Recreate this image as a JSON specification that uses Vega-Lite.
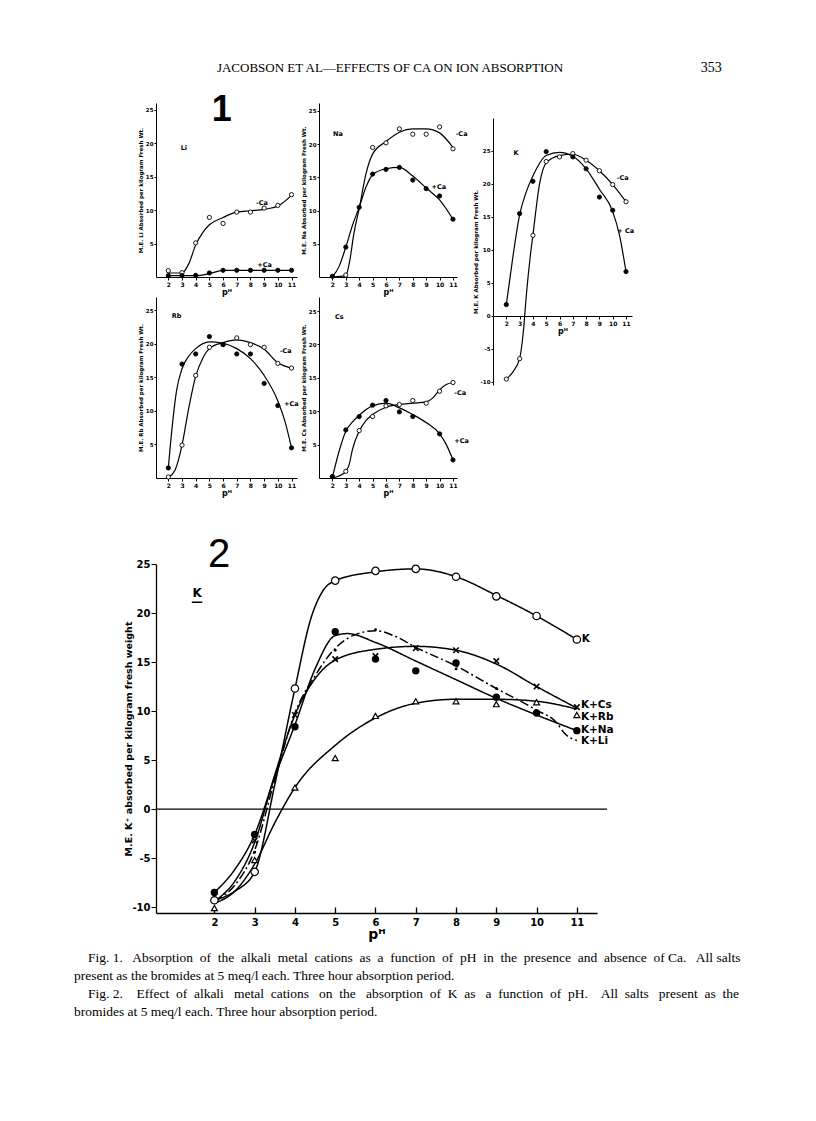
{
 "$schema": "https://vega.github.io/schema/vega-lite/v6.json",
 "padding": {"left": 74, "top": 58, "right": 10, "bottom": 10},
 "background": "white",
 "config": {
  "view": {"stroke": null},
  "axis": {"grid": false, "labelOverlap": false, "tickCount": 20, "domainColor": "black", "tickColor": "black", "labelColor": "black", "titleColor": "black", "labelFont": "DejaVu Sans", "titleFont": "DejaVu Sans", "labelFontWeight": "bold", "titleFontWeight": "bold"}
 },
 "datasets": {
  "f1c": [
   {"panel":"Li","ca":"-Ca","pH":2,"v":0.6},{"panel":"Li","ca":"-Ca","pH":3,"v":0.6},{"panel":"Li","ca":"-Ca","pH":3.5,"v":2},{"panel":"Li","ca":"-Ca","pH":4,"v":4.8},{"panel":"Li","ca":"-Ca","pH":4.5,"v":6.6},{"panel":"Li","ca":"-Ca","pH":5,"v":7.8},{"panel":"Li","ca":"-Ca","pH":6,"v":8.9},{"panel":"Li","ca":"-Ca","pH":7,"v":9.7},{"panel":"Li","ca":"-Ca","pH":8,"v":9.9},{"panel":"Li","ca":"-Ca","pH":9,"v":10.1},{"panel":"Li","ca":"-Ca","pH":10,"v":10.6},{"panel":"Li","ca":"-Ca","pH":11,"v":12.2},
   {"panel":"Li","ca":"+Ca","pH":2,"v":0.2},{"panel":"Li","ca":"+Ca","pH":4,"v":0.2},{"panel":"Li","ca":"+Ca","pH":5,"v":0.5},{"panel":"Li","ca":"+Ca","pH":6,"v":1.0},{"panel":"Li","ca":"+Ca","pH":7,"v":1.0},{"panel":"Li","ca":"+Ca","pH":8,"v":1.0},{"panel":"Li","ca":"+Ca","pH":9,"v":1.0},{"panel":"Li","ca":"+Ca","pH":10,"v":1.0},{"panel":"Li","ca":"+Ca","pH":11,"v":1.0},
   {"panel":"Na","ca":"-Ca","pH":2,"v":0},{"panel":"Na","ca":"-Ca","pH":3,"v":0.2},{"panel":"Na","ca":"-Ca","pH":3.3,"v":2.5},{"panel":"Na","ca":"-Ca","pH":3.6,"v":6.5},{"panel":"Na","ca":"-Ca","pH":4,"v":10.3},{"panel":"Na","ca":"-Ca","pH":4.5,"v":15.5},{"panel":"Na","ca":"-Ca","pH":5,"v":18.5},{"panel":"Na","ca":"-Ca","pH":6,"v":20.4},{"panel":"Na","ca":"-Ca","pH":7,"v":21.8},{"panel":"Na","ca":"-Ca","pH":8,"v":22.3},{"panel":"Na","ca":"-Ca","pH":9,"v":22.3},{"panel":"Na","ca":"-Ca","pH":10,"v":21.7},{"panel":"Na","ca":"-Ca","pH":11,"v":19.5},
   {"panel":"Na","ca":"+Ca","pH":2,"v":0},{"panel":"Na","ca":"+Ca","pH":2.5,"v":1.6},{"panel":"Na","ca":"+Ca","pH":3,"v":4.5},{"panel":"Na","ca":"+Ca","pH":3.5,"v":7.8},{"panel":"Na","ca":"+Ca","pH":4,"v":10.5},{"panel":"Na","ca":"+Ca","pH":4.5,"v":13.5},{"panel":"Na","ca":"+Ca","pH":5,"v":15.4},{"panel":"Na","ca":"+Ca","pH":6,"v":16.3},{"panel":"Na","ca":"+Ca","pH":7,"v":16.5},{"panel":"Na","ca":"+Ca","pH":8,"v":15.2},{"panel":"Na","ca":"+Ca","pH":9,"v":13.4},{"panel":"Na","ca":"+Ca","pH":10,"v":11.6},{"panel":"Na","ca":"+Ca","pH":11,"v":8.7},
   {"panel":"K","ca":"-Ca","pH":2,"v":-9.6},{"panel":"K","ca":"-Ca","pH":2.5,"v":-8.5},{"panel":"K","ca":"-Ca","pH":3,"v":-6.5},{"panel":"K","ca":"-Ca","pH":3.3,"v":-2},{"panel":"K","ca":"-Ca","pH":3.5,"v":3},{"panel":"K","ca":"-Ca","pH":3.8,"v":9},{"panel":"K","ca":"-Ca","pH":4,"v":12.2},{"panel":"K","ca":"-Ca","pH":4.5,"v":20},{"panel":"K","ca":"-Ca","pH":5,"v":23.2},{"panel":"K","ca":"-Ca","pH":6,"v":24.3},{"panel":"K","ca":"-Ca","pH":7,"v":24.5},{"panel":"K","ca":"-Ca","pH":8,"v":23.6},{"panel":"K","ca":"-Ca","pH":9,"v":22.0},{"panel":"K","ca":"-Ca","pH":10,"v":19.9},{"panel":"K","ca":"-Ca","pH":11,"v":17.3},
   {"panel":"K","ca":"+Ca","pH":2,"v":1.7},{"panel":"K","ca":"+Ca","pH":2.5,"v":9},{"panel":"K","ca":"+Ca","pH":3,"v":15.3},{"panel":"K","ca":"+Ca","pH":3.5,"v":18.8},{"panel":"K","ca":"+Ca","pH":4,"v":21.2},{"panel":"K","ca":"+Ca","pH":5,"v":24.3},{"panel":"K","ca":"+Ca","pH":6,"v":24.8},{"panel":"K","ca":"+Ca","pH":7,"v":24.2},{"panel":"K","ca":"+Ca","pH":8,"v":22.3},{"panel":"K","ca":"+Ca","pH":9,"v":19.2},{"panel":"K","ca":"+Ca","pH":10,"v":15.8},{"panel":"K","ca":"+Ca","pH":10.5,"v":12.3},{"panel":"K","ca":"+Ca","pH":11,"v":6.7},
   {"panel":"Rb","ca":"-Ca","pH":2,"v":0.1},{"panel":"Rb","ca":"-Ca","pH":2.5,"v":1.2},{"panel":"Rb","ca":"-Ca","pH":3,"v":4.9},{"panel":"Rb","ca":"-Ca","pH":3.5,"v":10.5},{"panel":"Rb","ca":"-Ca","pH":4,"v":15.2},{"panel":"Rb","ca":"-Ca","pH":4.5,"v":17.8},{"panel":"Rb","ca":"-Ca","pH":5,"v":19.3},{"panel":"Rb","ca":"-Ca","pH":6,"v":20.2},{"panel":"Rb","ca":"-Ca","pH":7,"v":20.6},{"panel":"Rb","ca":"-Ca","pH":8,"v":20.2},{"panel":"Rb","ca":"-Ca","pH":9,"v":19.2},{"panel":"Rb","ca":"-Ca","pH":10,"v":17.2},{"panel":"Rb","ca":"-Ca","pH":11,"v":16.4},
   {"panel":"Rb","ca":"+Ca","pH":2,"v":1.5},{"panel":"Rb","ca":"+Ca","pH":2.3,"v":8},{"panel":"Rb","ca":"+Ca","pH":2.6,"v":13},{"panel":"Rb","ca":"+Ca","pH":3,"v":16.3},{"panel":"Rb","ca":"+Ca","pH":3.5,"v":18.2},{"panel":"Rb","ca":"+Ca","pH":4,"v":19.3},{"panel":"Rb","ca":"+Ca","pH":5,"v":20.3},{"panel":"Rb","ca":"+Ca","pH":6,"v":20.1},{"panel":"Rb","ca":"+Ca","pH":7,"v":19.3},{"panel":"Rb","ca":"+Ca","pH":8,"v":17.8},{"panel":"Rb","ca":"+Ca","pH":9,"v":15.3},{"panel":"Rb","ca":"+Ca","pH":10,"v":11.5},{"panel":"Rb","ca":"+Ca","pH":10.5,"v":8.6},{"panel":"Rb","ca":"+Ca","pH":11,"v":4.5},
   {"panel":"Cs","ca":"-Ca","pH":2,"v":0},{"panel":"Cs","ca":"-Ca","pH":2.5,"v":0.3},{"panel":"Cs","ca":"-Ca","pH":3,"v":1.0},{"panel":"Cs","ca":"-Ca","pH":3.25,"v":2},{"panel":"Cs","ca":"-Ca","pH":3.5,"v":4.3},{"panel":"Cs","ca":"-Ca","pH":4,"v":7.0},{"panel":"Cs","ca":"-Ca","pH":4.5,"v":8.6},{"panel":"Cs","ca":"-Ca","pH":5,"v":9.5},{"panel":"Cs","ca":"-Ca","pH":6,"v":10.6},{"panel":"Cs","ca":"-Ca","pH":7,"v":11.0},{"panel":"Cs","ca":"-Ca","pH":8,"v":11.2},{"panel":"Cs","ca":"-Ca","pH":9,"v":11.4},{"panel":"Cs","ca":"-Ca","pH":9.5,"v":12.0},{"panel":"Cs","ca":"-Ca","pH":10,"v":13.2},{"panel":"Cs","ca":"-Ca","pH":10.5,"v":14.0},{"panel":"Cs","ca":"-Ca","pH":11,"v":14.3},
   {"panel":"Cs","ca":"+Ca","pH":2,"v":0.1},{"panel":"Cs","ca":"+Ca","pH":2.5,"v":4},{"panel":"Cs","ca":"+Ca","pH":3,"v":7.0},{"panel":"Cs","ca":"+Ca","pH":3.5,"v":8.4},{"panel":"Cs","ca":"+Ca","pH":4,"v":9.4},{"panel":"Cs","ca":"+Ca","pH":5,"v":10.8},{"panel":"Cs","ca":"+Ca","pH":6,"v":11.2},{"panel":"Cs","ca":"+Ca","pH":7,"v":10.5},{"panel":"Cs","ca":"+Ca","pH":8,"v":9.5},{"panel":"Cs","ca":"+Ca","pH":9,"v":8.3},{"panel":"Cs","ca":"+Ca","pH":10,"v":6.6},{"panel":"Cs","ca":"+Ca","pH":10.5,"v":5.0},{"panel":"Cs","ca":"+Ca","pH":11,"v":2.7}
  ],
  "f1p": [
   {"panel":"Li","ca":"-Ca","pH":2,"v":0.95},{"panel":"Li","ca":"-Ca","pH":3,"v":0.65},{"panel":"Li","ca":"-Ca","pH":4,"v":5.1},{"panel":"Li","ca":"-Ca","pH":5,"v":8.9},{"panel":"Li","ca":"-Ca","pH":6,"v":8.0},{"panel":"Li","ca":"-Ca","pH":7,"v":9.7},{"panel":"Li","ca":"-Ca","pH":8,"v":9.7},{"panel":"Li","ca":"-Ca","pH":9,"v":10.3},{"panel":"Li","ca":"-Ca","pH":10,"v":10.7},{"panel":"Li","ca":"-Ca","pH":11,"v":12.3},
   {"panel":"Li","ca":"+Ca","pH":2,"v":0.2},{"panel":"Li","ca":"+Ca","pH":3,"v":0.2},{"panel":"Li","ca":"+Ca","pH":4,"v":0.25},{"panel":"Li","ca":"+Ca","pH":5,"v":0.6},{"panel":"Li","ca":"+Ca","pH":6,"v":1.0},{"panel":"Li","ca":"+Ca","pH":7,"v":1.0},{"panel":"Li","ca":"+Ca","pH":8,"v":1.0},{"panel":"Li","ca":"+Ca","pH":9,"v":1.0},{"panel":"Li","ca":"+Ca","pH":10,"v":1.0},{"panel":"Li","ca":"+Ca","pH":11,"v":1.0},
   {"panel":"Na","ca":"-Ca","pH":3,"v":0.3},{"panel":"Na","ca":"-Ca","pH":5,"v":19.5},{"panel":"Na","ca":"-Ca","pH":6,"v":20.2},{"panel":"Na","ca":"-Ca","pH":7,"v":22.3},{"panel":"Na","ca":"-Ca","pH":8,"v":21.5},{"panel":"Na","ca":"-Ca","pH":9,"v":21.5},{"panel":"Na","ca":"-Ca","pH":10,"v":22.6},{"panel":"Na","ca":"-Ca","pH":11,"v":19.3},
   {"panel":"Na","ca":"+Ca","pH":2,"v":0.1},{"panel":"Na","ca":"+Ca","pH":3,"v":4.5},{"panel":"Na","ca":"+Ca","pH":4,"v":10.5},{"panel":"Na","ca":"+Ca","pH":5,"v":15.5},{"panel":"Na","ca":"+Ca","pH":6,"v":16.2},{"panel":"Na","ca":"+Ca","pH":7,"v":16.5},{"panel":"Na","ca":"+Ca","pH":8,"v":14.6},{"panel":"Na","ca":"+Ca","pH":9,"v":13.3},{"panel":"Na","ca":"+Ca","pH":10,"v":12.2},{"panel":"Na","ca":"+Ca","pH":11,"v":8.7},
   {"panel":"K","ca":"-Ca","pH":2,"v":-9.6},{"panel":"K","ca":"-Ca","pH":3,"v":-6.5},{"panel":"K","ca":"-Ca","pH":4,"v":12.2},{"panel":"K","ca":"-Ca","pH":5,"v":23.4},{"panel":"K","ca":"-Ca","pH":6,"v":24.1},{"panel":"K","ca":"-Ca","pH":7,"v":24.6},{"panel":"K","ca":"-Ca","pH":8,"v":23.6},{"panel":"K","ca":"-Ca","pH":9,"v":22.0},{"panel":"K","ca":"-Ca","pH":10,"v":19.9},{"panel":"K","ca":"-Ca","pH":11,"v":17.3},
   {"panel":"K","ca":"+Ca","pH":2,"v":1.7},{"panel":"K","ca":"+Ca","pH":3,"v":15.5},{"panel":"K","ca":"+Ca","pH":4,"v":20.4},{"panel":"K","ca":"+Ca","pH":5,"v":24.9},{"panel":"K","ca":"+Ca","pH":7,"v":24.1},{"panel":"K","ca":"+Ca","pH":8,"v":22.3},{"panel":"K","ca":"+Ca","pH":9,"v":18.0},{"panel":"K","ca":"+Ca","pH":10,"v":16.0},{"panel":"K","ca":"+Ca","pH":11,"v":6.7},
   {"panel":"Rb","ca":"-Ca","pH":2,"v":0.15},{"panel":"Rb","ca":"-Ca","pH":3,"v":4.9},{"panel":"Rb","ca":"-Ca","pH":4,"v":15.3},{"panel":"Rb","ca":"-Ca","pH":5,"v":19.5},{"panel":"Rb","ca":"-Ca","pH":6,"v":19.9},{"panel":"Rb","ca":"-Ca","pH":7,"v":20.9},{"panel":"Rb","ca":"-Ca","pH":8,"v":19.9},{"panel":"Rb","ca":"-Ca","pH":9,"v":19.5},{"panel":"Rb","ca":"-Ca","pH":10,"v":17.1},{"panel":"Rb","ca":"-Ca","pH":11,"v":16.4},
   {"panel":"Rb","ca":"+Ca","pH":2,"v":1.5},{"panel":"Rb","ca":"+Ca","pH":3,"v":17.0},{"panel":"Rb","ca":"+Ca","pH":4,"v":18.5},{"panel":"Rb","ca":"+Ca","pH":5,"v":21.1},{"panel":"Rb","ca":"+Ca","pH":6,"v":19.9},{"panel":"Rb","ca":"+Ca","pH":7,"v":18.5},{"panel":"Rb","ca":"+Ca","pH":8,"v":18.5},{"panel":"Rb","ca":"+Ca","pH":9,"v":14.1},{"panel":"Rb","ca":"+Ca","pH":10,"v":10.8},{"panel":"Rb","ca":"+Ca","pH":11,"v":4.5},
   {"panel":"Cs","ca":"-Ca","pH":2,"v":0.2},{"panel":"Cs","ca":"-Ca","pH":3,"v":1.0},{"panel":"Cs","ca":"-Ca","pH":4,"v":7.1},{"panel":"Cs","ca":"-Ca","pH":5,"v":9.2},{"panel":"Cs","ca":"-Ca","pH":6,"v":10.8},{"panel":"Cs","ca":"-Ca","pH":7,"v":11.0},{"panel":"Cs","ca":"-Ca","pH":8,"v":11.6},{"panel":"Cs","ca":"-Ca","pH":9,"v":11.2},{"panel":"Cs","ca":"-Ca","pH":10,"v":13.0},{"panel":"Cs","ca":"-Ca","pH":11,"v":14.3},
   {"panel":"Cs","ca":"+Ca","pH":2,"v":0.2},{"panel":"Cs","ca":"+Ca","pH":3,"v":7.2},{"panel":"Cs","ca":"+Ca","pH":4,"v":9.2},{"panel":"Cs","ca":"+Ca","pH":5,"v":10.9},{"panel":"Cs","ca":"+Ca","pH":6,"v":11.6},{"panel":"Cs","ca":"+Ca","pH":7,"v":9.9},{"panel":"Cs","ca":"+Ca","pH":8,"v":9.2},{"panel":"Cs","ca":"+Ca","pH":10,"v":6.6},{"panel":"Cs","ca":"+Ca","pH":11,"v":2.7}
  ],
  "f1t": [
   {"panel":"Li","t":"Li","pH":2.9,"v":19.3},{"panel":"Li","t":"-Ca","pH":8.4,"v":11.1},{"panel":"Li","t":"+Ca","pH":8.5,"v":1.8},
   {"panel":"Na","t":"Na","pH":2.05,"v":21.6},{"panel":"Na","t":"-Ca","pH":11.2,"v":21.6},{"panel":"Na","t":"+Ca","pH":9.4,"v":13.5},
   {"panel":"K","t":"K","pH":2.55,"v":24.7},{"panel":"K","t":"-Ca","pH":10.3,"v":20.9},{"panel":"K","t":"+ Ca","pH":10.35,"v":12.8},
   {"panel":"Rb","t":"Rb","pH":2.25,"v":24.1},{"panel":"Rb","t":"-Ca","pH":10.15,"v":18.9},{"panel":"Rb","t":"+Ca","pH":10.45,"v":11.0},
   {"panel":"Cs","t":"Cs","pH":2.2,"v":24.1},{"panel":"Cs","t":"-Ca","pH":11.1,"v":12.8},{"panel":"Cs","t":"+Ca","pH":11.1,"v":5.6}
  ],
  "f2c": [
   {"s":"K","pH":2,"v":-9.3},{"s":"K","pH":2.5,"v":-8.4},{"s":"K","pH":3,"v":-6.4},{"s":"K","pH":3.5,"v":2.5},{"s":"K","pH":4,"v":12.3},{"s":"K","pH":4.4,"v":19.5},{"s":"K","pH":4.7,"v":22.3},{"s":"K","pH":5,"v":23.3},{"s":"K","pH":6,"v":24.2},{"s":"K","pH":7,"v":24.5},{"s":"K","pH":8,"v":23.7},{"s":"K","pH":9,"v":21.8},{"s":"K","pH":10,"v":19.7},{"s":"K","pH":11,"v":17.3},
   {"s":"K+Na","pH":2,"v":-8.5},{"s":"K+Na","pH":2.5,"v":-6.2},{"s":"K+Na","pH":3,"v":-2.6},{"s":"K+Na","pH":3.5,"v":3.3},{"s":"K+Na","pH":4,"v":8.6},{"s":"K+Na","pH":4.5,"v":14.3},{"s":"K+Na","pH":5,"v":17.7},{"s":"K+Na","pH":5.3,"v":17.9},{"s":"K+Na","pH":6,"v":17.0},{"s":"K+Na","pH":7,"v":15.1},{"s":"K+Na","pH":8,"v":13.2},{"s":"K+Na","pH":9,"v":11.3},{"s":"K+Na","pH":10,"v":9.6},{"s":"K+Na","pH":11,"v":8.0},
   {"s":"K+Cs","pH":2,"v":-9.4},{"s":"K+Cs","pH":2.5,"v":-7.4},{"s":"K+Cs","pH":3,"v":-3.4},{"s":"K+Cs","pH":3.5,"v":3.5},{"s":"K+Cs","pH":4,"v":9.6},{"s":"K+Cs","pH":4.5,"v":13.3},{"s":"K+Cs","pH":5,"v":15.2},{"s":"K+Cs","pH":6,"v":16.3},{"s":"K+Cs","pH":7,"v":16.6},{"s":"K+Cs","pH":8,"v":16.2},{"s":"K+Cs","pH":9,"v":14.8},{"s":"K+Cs","pH":10,"v":12.5},{"s":"K+Cs","pH":11,"v":10.3},
   {"s":"K+Rb","pH":2,"v":-9.6},{"s":"K+Rb","pH":2.5,"v":-8.4},{"s":"K+Rb","pH":3,"v":-5.6},{"s":"K+Rb","pH":3.5,"v":-1.4},{"s":"K+Rb","pH":4,"v":2.2},{"s":"K+Rb","pH":5,"v":6.5},{"s":"K+Rb","pH":6,"v":9.3},{"s":"K+Rb","pH":7,"v":10.8},{"s":"K+Rb","pH":8,"v":11.2},{"s":"K+Rb","pH":9,"v":11.2},{"s":"K+Rb","pH":10,"v":11.0},{"s":"K+Rb","pH":11,"v":10.2},
   {"s":"K+Li","pH":2,"v":-9.4},{"s":"K+Li","pH":2.5,"v":-7.8},{"s":"K+Li","pH":3,"v":-4.2},{"s":"K+Li","pH":3.5,"v":3},{"s":"K+Li","pH":4,"v":9.8},{"s":"K+Li","pH":4.5,"v":13.6},{"s":"K+Li","pH":5,"v":16.4},{"s":"K+Li","pH":5.5,"v":17.8},{"s":"K+Li","pH":6,"v":18.2},{"s":"K+Li","pH":6.5,"v":17.6},{"s":"K+Li","pH":7,"v":16.5},{"s":"K+Li","pH":8,"v":14.6},{"s":"K+Li","pH":9,"v":12.3},{"s":"K+Li","pH":10,"v":10.1},{"s":"K+Li","pH":10.5,"v":8.8},{"s":"K+Li","pH":10.7,"v":7.7},{"s":"K+Li","pH":11,"v":7.0}
  ],
  "f2p": [
   {"s":"K","pH":2,"v":-9.3},{"s":"K","pH":3,"v":-6.4},{"s":"K","pH":4,"v":12.3},{"s":"K","pH":5,"v":23.3},{"s":"K","pH":6,"v":24.3},{"s":"K","pH":7,"v":24.5},{"s":"K","pH":8,"v":23.7},{"s":"K","pH":9,"v":21.7},{"s":"K","pH":10,"v":19.7},{"s":"K","pH":11,"v":17.3},
   {"s":"K+Na","pH":2,"v":-8.5},{"s":"K+Na","pH":3,"v":-2.6},{"s":"K+Na","pH":4,"v":8.4},{"s":"K+Na","pH":5,"v":18.1},{"s":"K+Na","pH":6,"v":15.3},{"s":"K+Na","pH":7,"v":14.1},{"s":"K+Na","pH":8,"v":14.9},{"s":"K+Na","pH":9,"v":11.4},{"s":"K+Na","pH":10,"v":9.8},{"s":"K+Na","pH":11,"v":8.0},
   {"s":"K+Cs","pH":3,"v":-3.2},{"s":"K+Cs","pH":4,"v":9.6},{"s":"K+Cs","pH":5,"v":15.3},{"s":"K+Cs","pH":6,"v":15.6},{"s":"K+Cs","pH":7,"v":16.4},{"s":"K+Cs","pH":8,"v":16.2},{"s":"K+Cs","pH":9,"v":15.1},{"s":"K+Cs","pH":10,"v":12.5},{"s":"K+Cs","pH":11,"v":10.4},
   {"s":"K+Rb","pH":2,"v":-10.1},{"s":"K+Rb","pH":3,"v":-5.2},{"s":"K+Rb","pH":4,"v":2.2},{"s":"K+Rb","pH":5,"v":5.2},{"s":"K+Rb","pH":6,"v":9.5},{"s":"K+Rb","pH":7,"v":11.0},{"s":"K+Rb","pH":8,"v":11.0},{"s":"K+Rb","pH":9,"v":10.7},{"s":"K+Rb","pH":10,"v":10.9},{"s":"K+Rb","pH":11,"v":9.6},
   {"s":"K+Li","pH":3,"v":-4.4},{"s":"K+Li","pH":5,"v":16.2},{"s":"K+Li","pH":6,"v":18.3},{"s":"K+Li","pH":8,"v":14.3},{"s":"K+Li","pH":9,"v":12.3}
  ],
  "f2t": [
   {"t":"K","pH":11.12,"v":17.3},{"t":"K+Cs","pH":11.1,"v":10.6},{"t":"K+Rb","pH":11.1,"v":9.4},{"t":"K+Na","pH":11.1,"v":8.1},{"t":"K+Li","pH":11.1,"v":6.9}
  ],
  "cap": [
   {"line":1,"ind":1,"t":"Fig. 1. \u00a0 Absorption \u00a0of \u00a0the \u00a0alkali \u00a0metal \u00a0cations \u00a0as \u00a0a \u00a0function \u00a0of \u00a0pH \u00a0in \u00a0the \u00a0presence \u00a0and \u00a0absence \u00a0of Ca. \u00a0 All salts"},
   {"line":2,"ind":0,"t":"present as the bromides at 5 meq/l each.  Three hour absorption period."},
   {"line":3,"ind":1,"t":"Fig. 2. \u00a0\u00a0 Effect \u00a0of \u00a0alkali \u00a0\u00a0metal \u00a0cations \u00a0\u00a0on \u00a0the \u00a0\u00a0absorption \u00a0of \u00a0K \u00a0as \u00a0\u00a0a \u00a0function \u00a0of \u00a0pH. \u00a0\u00a0 All \u00a0salts \u00a0\u00a0present \u00a0as \u00a0the"},
   {"line":4,"ind":0,"t":"bromides at 5 meq/l each.  Three hour absorption period."}
  ]
 },
 "columns": 3,
 "align": "none",
 "bounds": "flush",
 "spacing": {"row": 20, "column": 22},
 "concat": [
  {"width": 141, "height": 25, "layer": [
   {"data": {"values": [{"t": "JACOBSON ET AL—EFFECTS OF CA ON ION ABSORPTION"}]}, "mark": {"type": "text", "font": "Liberation Serif", "fontSize": 13, "align": "center", "baseline": "middle"}, "encoding": {"text": {"field": "t"}, "x": {"datum": 0.473, "type": "quantitative", "scale": {"domain": [0, 1], "range": [-82, 586]}, "axis": null}, "y": {"datum": 0.6, "type": "quantitative", "scale": {"domain": [0, 1]}, "axis": null}}},
   {"data": {"values": [{"t": "353"}]}, "mark": {"type": "text", "font": "Liberation Serif", "fontSize": 14, "align": "center", "baseline": "middle"}, "encoding": {"text": {"field": "t"}, "x": {"datum": 0.954, "type": "quantitative"}, "y": {"datum": 0.6, "type": "quantitative"}}}
  ]},
  {"width": 1, "height": 25, "data": {"values": [{"a": 0}]}, "mark": {"type": "point", "opacity": 0}, "encoding": {}},
  {"width": 1, "height": 25, "data": {"values": [{"a": 0}]}, "mark": {"type": "point", "opacity": 0}, "encoding": {}},
  {"width": 141, "height": 174, "layer": [
   {"data": {"name": "f1c"}, "transform": [{"filter": "datum.panel === 'Li'"}], "mark": {"type": "line", "interpolate": "monotone", "color": "black", "strokeWidth": 1.2},
    "encoding": {"x": {"field": "pH", "type": "quantitative", "scale": {"domain": [1.1, 11.4], "nice": false, "zero": false}, "axis": {"values": [2,3,4,5,6,7,8,9,10,11], "tickCount": 20, "labelExpr": "'' + datum.value", "title": "pᴴ", "labelFontSize": 6, "titleFontSize": 8, "tickSize": 3, "labelPadding": 1, "titlePadding": 1}},
                 "y": {"field": "v", "type": "quantitative", "scale": {"domain": [0, 26], "nice": false, "zero": false}, "axis": {"values": [5,10,15,20,25], "tickCount": 20, "labelExpr": "'' + datum.value", "title": "M.E. Li Absorbed per kilogram Fresh Wt.", "labelFontSize": 5.5, "titleFontSize": 5.5, "tickSize": 2, "labelPadding": 1, "titlePadding": 2}},
                 "detail": {"field": "ca"}}},
   {"data": {"name": "f1p"}, "transform": [{"filter": "datum.panel === 'Li'"}], "mark": {"type": "point", "shape": "circle", "filled": true, "stroke": "black", "strokeWidth": 0.9, "size": 18, "opacity": 1},
    "encoding": {"x": {"field": "pH", "type": "quantitative"}, "y": {"field": "v", "type": "quantitative"}, "fill": {"field": "ca", "type": "nominal", "scale": {"domain": ["-Ca", "+Ca"], "range": ["white", "black"]}, "legend": null}}},
   {"data": {"name": "f1t"}, "transform": [{"filter": "datum.panel === 'Li'"}], "mark": {"type": "text", "font": "DejaVu Sans", "fontWeight": "bold", "fontSize": 6.5, "align": "left", "baseline": "middle"},
    "encoding": {"x": {"field": "pH", "type": "quantitative"}, "y": {"field": "v", "type": "quantitative"}, "text": {"field": "t"}}},
   {"data": {"values": [{"t": "1"}]}, "mark": {"type": "text", "font": "Liberation Sans", "fontWeight": "bold", "fontSize": 36, "align": "center", "baseline": "middle"},
    "encoding": {"x": {"datum": 5.9, "type": "quantitative"}, "y": {"datum": 25, "type": "quantitative"}, "text": {"field": "t"}}}
  ]},
  {"width": 152, "height": 174, "layer": [
   {"data": {"name": "f1c"}, "transform": [{"filter": "datum.panel === 'Na'"}], "mark": {"type": "line", "interpolate": "monotone", "color": "black", "strokeWidth": 1.2},
    "encoding": {"x": {"field": "pH", "type": "quantitative", "scale": {"domain": [1.0, 11.3], "range": [0, 138], "nice": false, "zero": false}, "axis": {"values": [2,3,4,5,6,7,8,9,10,11], "tickCount": 20, "labelExpr": "'' + datum.value", "title": "pᴴ", "labelFontSize": 6, "titleFontSize": 8, "tickSize": 3, "labelPadding": 1, "titlePadding": 1}},
                 "y": {"field": "v", "type": "quantitative", "scale": {"domain": [0, 26.2], "nice": false, "zero": false}, "axis": {"values": [5,10,15,20,25], "tickCount": 20, "labelExpr": "'' + datum.value", "title": "M.E. Na Absorbed per kilogram Fresh Wt.", "labelFontSize": 5.5, "titleFontSize": 5.5, "tickSize": 2, "labelPadding": 1, "titlePadding": 2}},
                 "detail": {"field": "ca"}}},
   {"data": {"name": "f1p"}, "transform": [{"filter": "datum.panel === 'Na'"}], "mark": {"type": "point", "shape": "circle", "filled": true, "stroke": "black", "strokeWidth": 0.9, "size": 18, "opacity": 1},
    "encoding": {"x": {"field": "pH", "type": "quantitative"}, "y": {"field": "v", "type": "quantitative"}, "fill": {"field": "ca", "type": "nominal", "scale": {"domain": ["-Ca", "+Ca"], "range": ["white", "black"]}, "legend": null}}},
   {"data": {"name": "f1t"}, "transform": [{"filter": "datum.panel === 'Na'"}], "mark": {"type": "text", "font": "DejaVu Sans", "fontWeight": "bold", "fontSize": 6.5, "align": "left", "baseline": "middle"},
    "encoding": {"x": {"field": "pH", "type": "quantitative"}, "y": {"field": "v", "type": "quantitative"}, "text": {"field": "t"}}}
  ]},
  {"width": 139, "height": 174, "layer": [
   {"data": {"name": "f1c"}, "transform": [{"filter": "datum.panel === 'K'"}], "mark": {"type": "line", "interpolate": "monotone", "color": "black", "strokeWidth": 1.2},
    "encoding": {"x": {"field": "pH", "type": "quantitative", "scale": {"domain": [1.0, 11.45], "nice": false, "zero": false}, "axis": {"values": [2,3,4,5,6,7,8,9,10,11], "tickCount": 20, "labelExpr": "'' + datum.value", "title": "pᴴ", "labelFontSize": 6, "titleFontSize": 8, "tickSize": 3, "labelPadding": 1, "titlePadding": 1, "offset": 39}},
                 "y": {"field": "v", "type": "quantitative", "scale": {"domain": [-10.5, 30], "range": [282, 15], "nice": false, "zero": false}, "axis": {"values": [-10,-5,0,5,10,15,20,25], "tickCount": 20, "labelExpr": "'' + datum.value", "title": "M.E. K Absorbed per kilogram Fresh Wt.", "labelFontSize": 5.5, "titleFontSize": 5.5, "tickSize": 2, "labelPadding": 1, "titlePadding": 2}},
                 "detail": {"field": "ca"}}},
   {"data": {"name": "f1p"}, "transform": [{"filter": "datum.panel === 'K'"}], "mark": {"type": "point", "shape": "circle", "filled": true, "stroke": "black", "strokeWidth": 0.9, "size": 18, "opacity": 1},
    "encoding": {"x": {"field": "pH", "type": "quantitative"}, "y": {"field": "v", "type": "quantitative"}, "fill": {"field": "ca", "type": "nominal", "scale": {"domain": ["-Ca", "+Ca"], "range": ["white", "black"]}, "legend": null}}},
   {"data": {"name": "f1t"}, "transform": [{"filter": "datum.panel === 'K'"}], "mark": {"type": "text", "font": "DejaVu Sans", "fontWeight": "bold", "fontSize": 6.5, "align": "left", "baseline": "middle"},
    "encoding": {"x": {"field": "pH", "type": "quantitative"}, "y": {"field": "v", "type": "quantitative"}, "text": {"field": "t"}}}
  ]},
  {"width": 141, "height": 181, "layer": [
   {"data": {"name": "f1c"}, "transform": [{"filter": "datum.panel === 'Rb'"}], "mark": {"type": "line", "interpolate": "monotone", "color": "black", "strokeWidth": 1.2},
    "encoding": {"x": {"field": "pH", "type": "quantitative", "scale": {"domain": [1.1, 11.4], "nice": false, "zero": false}, "axis": {"values": [2,3,4,5,6,7,8,9,10,11], "tickCount": 20, "labelExpr": "'' + datum.value", "title": "pᴴ", "labelFontSize": 6, "titleFontSize": 8, "tickSize": 3, "labelPadding": 1, "titlePadding": 1}},
                 "y": {"field": "v", "type": "quantitative", "scale": {"domain": [0, 27], "nice": false, "zero": false}, "axis": {"values": [5,10,15,20,25], "tickCount": 20, "labelExpr": "'' + datum.value", "title": "M.E. Rb Absorbed per kilogram Fresh Wt.", "labelFontSize": 5.5, "titleFontSize": 5.5, "tickSize": 2, "labelPadding": 1, "titlePadding": 2}},
                 "detail": {"field": "ca"}}},
   {"data": {"name": "f1p"}, "transform": [{"filter": "datum.panel === 'Rb'"}], "mark": {"type": "point", "shape": "circle", "filled": true, "stroke": "black", "strokeWidth": 0.9, "size": 18, "opacity": 1},
    "encoding": {"x": {"field": "pH", "type": "quantitative"}, "y": {"field": "v", "type": "quantitative"}, "fill": {"field": "ca", "type": "nominal", "scale": {"domain": ["-Ca", "+Ca"], "range": ["white", "black"]}, "legend": null}}},
   {"data": {"name": "f1t"}, "transform": [{"filter": "datum.panel === 'Rb'"}], "mark": {"type": "text", "font": "DejaVu Sans", "fontWeight": "bold", "fontSize": 6.5, "align": "left", "baseline": "middle"},
    "encoding": {"x": {"field": "pH", "type": "quantitative"}, "y": {"field": "v", "type": "quantitative"}, "text": {"field": "t"}}}
  ]},
  {"width": 152, "height": 181, "layer": [
   {"data": {"name": "f1c"}, "transform": [{"filter": "datum.panel === 'Cs'"}], "mark": {"type": "line", "interpolate": "monotone", "color": "black", "strokeWidth": 1.2},
    "encoding": {"x": {"field": "pH", "type": "quantitative", "scale": {"domain": [1.0, 11.3], "range": [0, 138], "nice": false, "zero": false}, "axis": {"values": [2,3,4,5,6,7,8,9,10,11], "tickCount": 20, "labelExpr": "'' + datum.value", "title": "pᴴ", "labelFontSize": 6, "titleFontSize": 8, "tickSize": 3, "labelPadding": 1, "titlePadding": 1}},
                 "y": {"field": "v", "type": "quantitative", "scale": {"domain": [0, 27.1], "nice": false, "zero": false}, "axis": {"values": [5,10,15,20,25], "tickCount": 20, "labelExpr": "'' + datum.value", "title": "M.E. Cs Absorbed per kilogram Fresh Wt.", "labelFontSize": 5.5, "titleFontSize": 5.5, "tickSize": 2, "labelPadding": 1, "titlePadding": 2}},
                 "detail": {"field": "ca"}}},
   {"data": {"name": "f1p"}, "transform": [{"filter": "datum.panel === 'Cs'"}], "mark": {"type": "point", "shape": "circle", "filled": true, "stroke": "black", "strokeWidth": 0.9, "size": 18, "opacity": 1},
    "encoding": {"x": {"field": "pH", "type": "quantitative"}, "y": {"field": "v", "type": "quantitative"}, "fill": {"field": "ca", "type": "nominal", "scale": {"domain": ["-Ca", "+Ca"], "range": ["white", "black"]}, "legend": null}}},
   {"data": {"name": "f1t"}, "transform": [{"filter": "datum.panel === 'Cs'"}], "mark": {"type": "text", "font": "DejaVu Sans", "fontWeight": "bold", "fontSize": 6.5, "align": "left", "baseline": "middle"},
    "encoding": {"x": {"field": "pH", "type": "quantitative"}, "y": {"field": "v", "type": "quantitative"}, "text": {"field": "t"}}}
  ]},
  {"width": 1, "height": 1, "data": {"values": [{"a": 0}]}, "mark": {"type": "point", "opacity": 0}, "encoding": {}},
  {"width": 141, "height": 415, "layer": [
   {"data": {"name": "f2c"}, "mark": {"type": "line", "interpolate": "monotone", "color": "black", "strokeWidth": 1.5},
    "encoding": {"x": {"field": "pH", "type": "quantitative", "scale": {"domain": [0.55, 11.5], "range": [0, 441], "nice": false, "zero": false}, "axis": {"values": [2,3,4,5,6,7,8,9,10,11], "tickCount": 20, "labelExpr": "'' + datum.value", "title": "pᴴ", "titleFontSize": 14, "labelFontSize": 10, "tickSize": -6, "labelPadding": 10, "titlePadding": 0, "domainWidth": 1.3, "tickWidth": 1.3}},
                 "y": {"field": "v", "type": "quantitative", "scale": {"domain": [-10.6, 25], "range": [415, 66], "nice": false, "zero": false}, "axis": {"values": [-10,-5,0,5,10,15,20,25], "tickCount": 20, "labelExpr": "'' + datum.value", "title": "M.E. K⁺ absorbed per kilogram fresh weight", "titleFontSize": 9.5, "labelFontSize": 10, "tickSize": 5, "labelPadding": 1, "titlePadding": 5, "titleX": -23, "domainWidth": 1.3}},
                 "detail": {"field": "s"},
                 "strokeDash": {"field": "s", "type": "nominal", "scale": {"domain": ["K","K+Na","K+Cs","K+Rb","K+Li"], "range": [[1,0],[1,0],[1,0],[1,0],[9,3,2,3]]}, "legend": null}}},
   {"data": {"values": [{"a": 0}]}, "mark": {"type": "rule", "color": "black", "strokeWidth": 1.3}, "encoding": {"x": {"datum": 0.55, "type": "quantitative"}, "x2": {"datum": 11.75}, "y": {"datum": 0, "type": "quantitative"}}},
   {"data": {"name": "f2p"}, "transform": [{"filter": "datum.s === 'K'"}], "mark": {"type": "point", "shape": "circle", "filled": true, "fill": "white", "stroke": "black", "strokeWidth": 1.2, "size": 55, "opacity": 1},
    "encoding": {"x": {"field": "pH", "type": "quantitative"}, "y": {"field": "v", "type": "quantitative"}}},
   {"data": {"name": "f2p"}, "transform": [{"filter": "datum.s === 'K+Na'"}], "mark": {"type": "point", "shape": "circle", "filled": true, "fill": "black", "size": 55, "opacity": 1},
    "encoding": {"x": {"field": "pH", "type": "quantitative"}, "y": {"field": "v", "type": "quantitative"}}},
   {"data": {"name": "f2p"}, "transform": [{"filter": "datum.s === 'K+Cs'"}], "mark": {"type": "point", "shape": "M-1,-1L1,1M-1,1L1,-1", "filled": false, "stroke": "black", "strokeWidth": 1.6, "size": 30, "opacity": 1},
    "encoding": {"x": {"field": "pH", "type": "quantitative"}, "y": {"field": "v", "type": "quantitative"}}},
   {"data": {"name": "f2p"}, "transform": [{"filter": "datum.s === 'K+Rb'"}], "mark": {"type": "point", "shape": "triangle-up", "filled": true, "fill": "white", "stroke": "black", "strokeWidth": 1.2, "size": 35, "opacity": 1},
    "encoding": {"x": {"field": "pH", "type": "quantitative"}, "y": {"field": "v", "type": "quantitative"}}},
   {"data": {"name": "f2p"}, "transform": [{"filter": "datum.s === 'K+Li'"}], "mark": {"type": "point", "shape": "circle", "filled": true, "fill": "black", "size": 8, "opacity": 1},
    "encoding": {"x": {"field": "pH", "type": "quantitative"}, "y": {"field": "v", "type": "quantitative"}}},
   {"data": {"name": "f2t"}, "mark": {"type": "text", "font": "DejaVu Sans", "fontWeight": "bold", "fontSize": 10.5, "align": "left", "baseline": "middle"},
    "encoding": {"x": {"field": "pH", "type": "quantitative"}, "y": {"field": "v", "type": "quantitative"}, "text": {"field": "t"}}},
   {"data": {"values": [{"t": "K"}]}, "mark": {"type": "text", "font": "DejaVu Sans", "fontWeight": "bold", "fontSize": 12, "align": "center", "baseline": "middle"},
    "encoding": {"x": {"datum": 1.57, "type": "quantitative"}, "y": {"datum": 22.0, "type": "quantitative"}, "text": {"field": "t"}}},
   {"data": {"values": [{"a": 0}]}, "mark": {"type": "rule", "color": "black", "strokeWidth": 1.5},
    "encoding": {"x": {"datum": 1.44, "type": "quantitative"}, "x2": {"datum": 1.7}, "y": {"datum": 21.1, "type": "quantitative"}}},
   {"data": {"values": [{"t": "2"}]}, "mark": {"type": "text", "font": "Liberation Sans", "fontSize": 40, "align": "center", "baseline": "middle"},
    "encoding": {"x": {"datum": 2.12, "type": "quantitative"}, "y": {"datum": 25.9, "type": "quantitative"}, "text": {"field": "t"}}}
  ]},
  {"width": 1, "height": 1, "data": {"values": [{"a": 0}]}, "mark": {"type": "point", "opacity": 0}, "encoding": {}},
  {"width": 1, "height": 1, "data": {"values": [{"a": 0}]}, "mark": {"type": "point", "opacity": 0}, "encoding": {}},
  {"width": 141, "height": 88, "data": {"name": "cap"}, "layer": [
   {"transform": [{"filter": "datum.ind == 1"}], "mark": {"type": "text", "font": "Liberation Serif", "fontSize": 13.5, "align": "left", "baseline": "middle"},
    "encoding": {"text": {"field": "t"}, "x": {"datum": 0.021, "type": "quantitative", "scale": {"domain": [0, 1], "range": [-82, 586]}, "axis": null}, "y": {"field": "line", "type": "quantitative", "scale": {"domain": [0.5, 4.5], "range": [16, 88]}, "axis": null}}},
   {"transform": [{"filter": "datum.ind == 0"}], "mark": {"type": "text", "font": "Liberation Serif", "fontSize": 13.5, "align": "left", "baseline": "middle"},
    "encoding": {"text": {"field": "t"}, "x": {"datum": 0, "type": "quantitative"}, "y": {"field": "line", "type": "quantitative"}}}
  ]}
 ]
}
